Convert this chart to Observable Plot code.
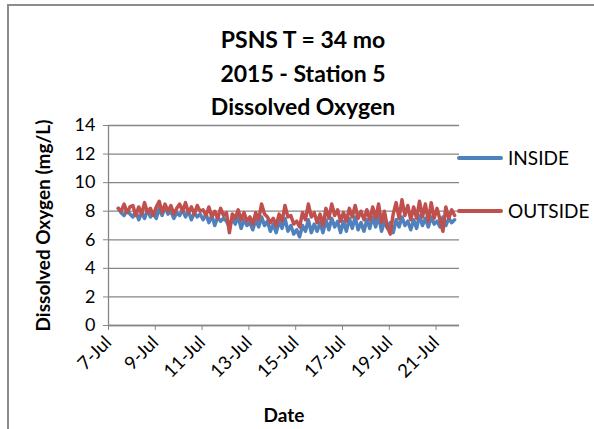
<!DOCTYPE html>
<html>
<head>
<meta charset="utf-8">
<script src="https://cdn.jsdelivr.net/npm/d3@7"></script>
<script src="https://cdn.jsdelivr.net/npm/@observablehq/plot@0.6"></script>
<style>
  html, body { margin: 0; padding: 0; background: #fff; }
  #wrap { position: relative; width: 594px; height: 429px; overflow: hidden; font-family: Lato, "Liberation Sans", sans-serif; }
  .frameTop { position: absolute; left: 8px; top: 4px; width: 600px; height: 2px; background: #8c8c8c; }
  .frameLeft { position: absolute; left: 7px; top: 4px; width: 2px; height: 440px; background: #8c8c8c; }
  #title { position: absolute; left: 0; top: 0; width: 594px; height: 110px; }
  .tl { position: absolute; left: 183px; width: 240px; text-align: center; font-weight: 700; font-size: 23px; color: #000; white-space: nowrap; line-height: 1; }
  #chart { position: absolute; left: 0; top: 110px; }
  .leg { position: absolute; display: flex; align-items: center; font-size: 19px; line-height: 23px; color: #000; }
  .leg span.sw { display: inline-block; width: 46px; height: 4px; border-radius: 2px; margin-right: 5px; }
</style>
</head>
<body>
<div id="wrap">
  <div class="frameTop"></div>
  <div class="frameLeft"></div>
  <div id="title">
    <div class="tl" style="top:28px">PSNS T = 34 mo</div>
    <div class="tl" style="top:62px">2015 - Station 5</div>
    <div class="tl" style="top:95px">Dissolved Oxygen</div>
  </div>
  <div id="chart"></div>
  <div class="leg" style="left:457px; top:146px;"><span class="sw" style="background:#4F81BD"></span>INSIDE</div>
  <div class="leg" style="left:457px; top:199px;"><span class="sw" style="background:#C0504D"></span>OUTSIDE</div>
</div>
<script>
// ---- data ----
const startTime = "2015-07-07T10:00:00Z";
const stepHours = 3;
const seriesNames = ["INSIDE", "OUTSIDE"];
const seriesColors = ["#4F81BD", "#C0504D"];
const insideDO = [
  8.2, 7.9, 7.7, 8.1, 7.8,
  7.6, 8.0, 7.4, 7.9, 7.5, 8.1, 7.6, 7.9,
  7.5, 8.2, 7.7, 8.3, 7.8, 8.0, 7.5, 7.9,
  7.7, 8.1, 7.6, 8.0, 7.4, 7.9, 7.6, 7.8,
  7.4, 7.8, 7.2, 7.7, 7.0, 7.6, 7.3, 7.5,
  7.3, 6.9, 7.5, 7.1, 7.6, 6.8, 7.4, 7.0,
  7.2, 6.7, 7.4, 6.9, 7.6, 7.0, 7.3, 6.6,
  7.1, 6.5, 7.3, 6.8, 7.5, 6.6, 7.0, 6.4,
  6.7, 6.2, 7.0, 6.6, 7.4, 6.5, 7.1, 6.6,
  7.2, 6.5, 7.4, 6.7, 7.5, 6.9, 7.3, 6.5,
  7.3, 6.6, 7.5, 6.8, 7.6, 6.7, 7.2, 6.6,
  7.4, 6.8, 7.6, 6.9, 7.7, 6.6, 7.3, 6.8,
  7.2, 6.5, 7.4, 6.9, 7.6, 7.0, 7.3, 6.7,
  7.4, 6.8, 7.7, 7.0, 7.5, 6.9, 7.6, 7.1,
  7.3, 6.9, 7.6, 7.0, 7.5, 7.2, 7.4
];
const outsideDO = [
  8.2, 8.0, 8.5, 7.9, 8.3,
  8.4, 7.7, 8.3, 7.8, 8.6, 7.9, 8.2, 7.7,
  8.3, 8.7, 7.9, 8.5, 8.0, 8.4, 7.8, 8.2,
  8.5, 8.0, 8.6, 7.9, 8.3, 7.8, 8.4, 8.0,
  8.1, 7.7, 8.3, 7.6, 8.0, 7.5, 8.2, 7.7,
  7.9, 6.5, 7.8, 7.5, 8.1, 7.4, 7.9, 7.3,
  7.6, 7.1, 7.9, 7.4, 8.5, 7.8, 7.6, 7.2,
  7.5, 7.0, 7.8, 7.3, 8.4, 7.6, 7.7, 7.1,
  7.3, 6.9, 7.9, 7.4, 8.5, 7.6, 7.9, 7.2,
  7.8, 7.0, 8.2, 7.5, 8.5, 7.7, 8.1, 7.3,
  7.9, 7.3, 8.2, 7.6, 8.4, 7.5, 8.0, 7.4,
  8.1, 7.4, 8.3, 7.5, 8.5, 7.2, 8.0, 6.9,
  6.4, 7.8, 8.6, 7.5, 8.8, 7.7, 8.4, 7.4,
  8.3, 7.5, 8.7, 7.6, 8.5, 7.3, 8.6, 7.5,
  8.2, 7.4, 6.6, 8.3, 7.5, 8.1, 7.7
];
const xDomain = ["2015-07-07", "2015-07-22"];
const xTicks = ["2015-07-07", "2015-07-09", "2015-07-11", "2015-07-13", "2015-07-15", "2015-07-17", "2015-07-19", "2015-07-21"];
const yTicks = [0, 2, 4, 6, 8, 10, 12, 14];
const xLabel = "Date";
const yLabel = "Dissolved Oxygen (mg/L)";

// ---- build table ----
const t0 = Date.parse(startTime);
const rows = [];
[insideDO, outsideDO].forEach((arr, s) => {
  arr.forEach((v, i) => rows.push({date: new Date(t0 + i * stepHours * 3600e3), value: v, series: seriesNames[s]}));
});

const gray = "#868686";
const chart = Plot.plot({
  width: 594,
  height: 319,
  marginLeft: 108,
  marginRight: 135,
  marginTop: 15,
  marginBottom: 104,
  style: {fontFamily: "Lato, 'Liberation Sans', sans-serif", fontSize: "17px", color: "#000", background: "transparent", overflow: "visible"},
  x: {type: "utc", domain: xDomain.map(d => new Date(d))},
  y: {domain: [0, 14]},
  color: {domain: seriesNames, range: seriesColors},
  marks: [
    Plot.gridY(yTicks, {stroke: gray, strokeOpacity: 1, strokeWidth: 1.3}),
    Plot.ruleX([new Date(xDomain[0])], {stroke: gray, strokeWidth: 1.3}),
    Plot.ruleY([0], {stroke: gray, strokeWidth: 1.3}),
    Plot.axisY({ticks: yTicks, tickSize: 5, tickPadding: 8, stroke: gray, fontSize: 18, label: null}),
    Plot.axisX({ticks: xTicks.map(d => new Date(d)), tickFormat: d3.utcFormat("%-d-%b"), tickSize: 5, tickRotate: -45, tickPadding: 9, stroke: gray, fontSize: 18.5, label: null}),
    Plot.line(rows, {x: "date", y: "value", z: "series", stroke: "series", strokeWidth: 3.5, strokeLinejoin: "round", strokeLinecap: "round"}),
    Plot.text([yLabel], {frameAnchor: "left", textAnchor: "middle", dx: -65, rotate: -90, fontWeight: "bold", fontSize: 19, text: d => d}),
    Plot.text([xLabel], {frameAnchor: "bottom", dy: 96, fontWeight: "bold", fontSize: 19, text: d => d})
  ]
});
document.getElementById("chart").appendChild(chart);
</script>
</body>
</html>
